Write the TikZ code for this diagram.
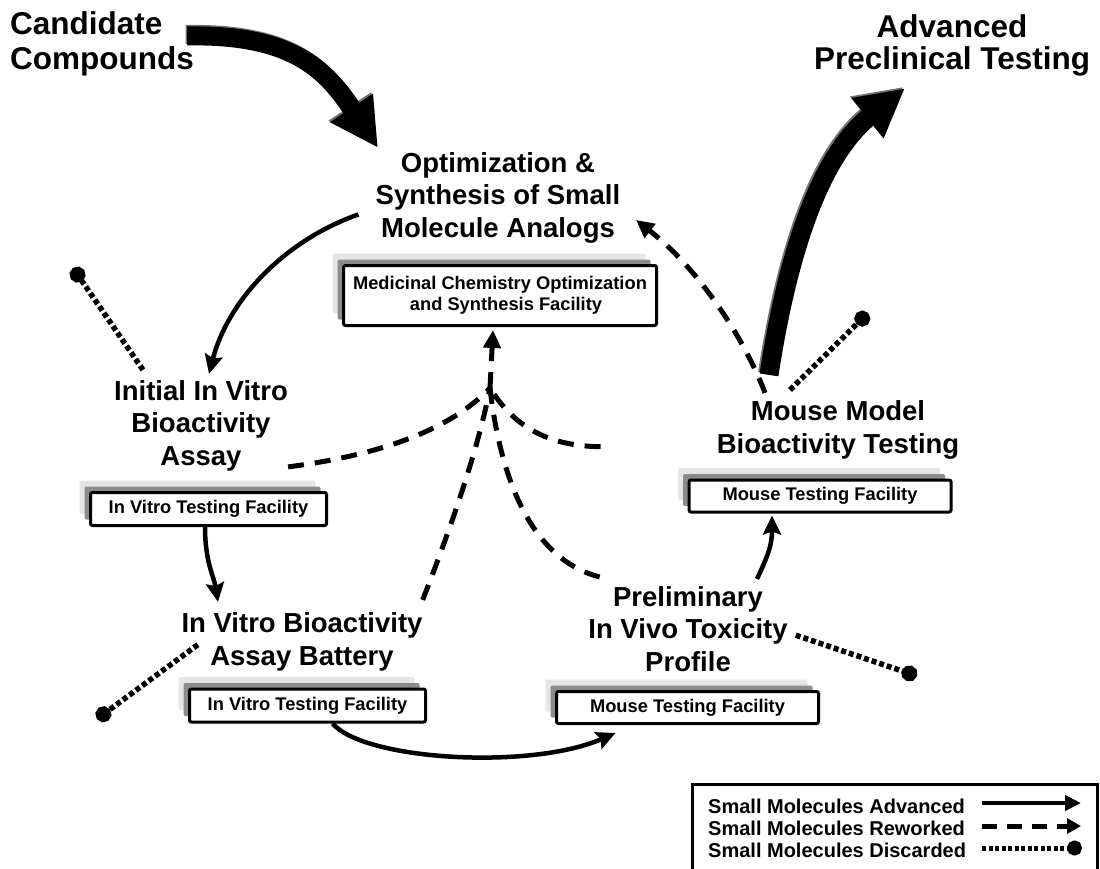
\documentclass[tikz,border=0pt]{standalone}
\usepackage{fontspec}
\setmainfont{Liberation Sans}
\usetikzlibrary{arrows.meta,shadows}
\tikzset{
  big/.style={font=\bfseries\fontsize{31.5}{35}\selectfont, align=left, inner sep=0pt},
  bigc/.style={font=\bfseries\fontsize{31.5}{32}\selectfont, align=center, inner sep=0pt},
  lbl/.style={font=\bfseries\fontsize{27.5}{32.5}\selectfont, align=center, inner sep=0pt},
  fac/.style={draw=black, line width=3pt, fill=white, rounded corners=2pt,
    font=\bfseries\fontsize{18.3}{21}\selectfont, align=center, inner sep=0pt,
    general shadow={fill=black!10, shadow xshift=-11pt, shadow yshift=12pt},
    general shadow={fill=black!45, shadow xshift=-6pt, shadow yshift=6pt}},
  legtext/.style={font=\bfseries\fontsize{20}{22}\selectfont, inner sep=0pt},
  adv/.style={line width=4.5pt, -{Stealth[length=19pt,width=18pt,inset=3pt]}},
  rew/.style={line width=5pt, dash pattern=on 16pt off 11pt, -{Triangle[length=18pt,width=17pt]}},
  rewplain/.style={line width=5pt, dash pattern=on 16pt off 11pt},
  disc/.style={line width=5.5pt, dash pattern=on 5pt off 3pt, -{Circle[length=16pt]}},
  bigarrow/.style={line width=19pt, -{Triangle[length=48pt,width=48pt]}},
}
\begin{document}
\begin{tikzpicture}[x=1pt,y=-1pt]
\useasboundingbox (0,0) rectangle (1100,869);

% big labels (anchor = baseline of last line)
\node[big, anchor=base west] (cand) at (10,70) {Candidate\\Compounds};
\node[bigc, anchor=base] (advp) at (952,70) {Advanced\\Preclinical Testing};

% stage labels
\node[lbl, anchor=base] (opt) at (498,237) {Optimization \&\\Synthesis of Small\\Molecule Analogs};
\node[lbl, anchor=base] (init) at (201,465) {Initial In Vitro\\Bioactivity\\Assay};
\node[lbl, anchor=base] (mm) at (838,453) {Mouse Model\\Bioactivity Testing};
\node[lbl, anchor=base] (ivbat) at (302,665) {In Vitro Bioactivity\\Assay Battery};
\node[lbl, anchor=base] (prelim) at (688,671) {Preliminary\\In Vivo Toxicity\\Profile};

% facility boxes
\node[fac, minimum width=313pt, minimum height=60pt] (med) at (500,295.5)
  {Medicinal Chemistry Optimization\\\hspace*{12pt}and Synthesis Facility};
\node[fac, minimum width=236pt, minimum height=33pt] (ivb1) at (208.5,509) {In Vitro Testing Facility};
\node[fac, minimum width=236pt, minimum height=33pt] (ivb2) at (307.5,705.5) {In Vitro Testing Facility};
\node[fac, minimum width=262pt, minimum height=32pt] (mouse1) at (820,496) {Mouse Testing Facility};
\node[fac, minimum width=262pt, minimum height=32pt] (mouse2) at (687.5,707.5) {Mouse Testing Facility};

% big arrows
\draw[bigarrow, black!55, transform canvas={shift={(-1.5pt,1.5pt)}}]
  ([xshift=-7pt,yshift=-24pt]cand.north east) .. controls (290,34) and (325,68) .. ([xshift=-120pt,yshift=4pt]opt.north);
\draw[bigarrow]
  ([xshift=-7pt,yshift=-24pt]cand.north east) .. controls (290,34) and (325,68) .. ([xshift=-120pt,yshift=4pt]opt.north);
\draw[bigarrow, black!55, transform canvas={shift={(-1.5pt,1.5pt)}}]
  ([xshift=-69pt,yshift=25.5pt]mm.north) .. controls (785,270) and (815,160) .. ([xshift=-47pt,yshift=-11.4pt]advp.south);
\draw[bigarrow]
  ([xshift=-69pt,yshift=25.5pt]mm.north) .. controls (785,270) and (815,160) .. ([xshift=-47pt,yshift=-11.4pt]advp.south);

% advanced (solid) connectors
\draw[adv] ([xshift=-17pt,yshift=-17pt]opt.west) .. controls (285,240) and (228,300) .. ([xshift=8pt,yshift=6pt]init.north);
\draw[adv] ([xshift=-3.5pt]ivb1.south) .. controls +(0,35) and +(-4,-25) .. ([xshift=-84pt,yshift=10.5pt]ivbat.north);
\draw[adv] ([xshift=25pt]ivb2.south) .. controls +(32,37) and +(-85,37) .. ([xshift=-72pt,yshift=-8pt]mouse2.south);
\draw[adv] ([xshift=69pt,yshift=7pt]prelim.north) .. controls +(12,-25) and +(0,28) .. ([xshift=-48pt,yshift=-2pt]mouse1.south);

% reworked (dashed) connectors
\coordinate (J) at (490,388);
\draw[rew] ([xshift=-73pt,yshift=7.5pt]mm.north) .. controls (745,340) and (700,270) .. ([xshift=15.5pt,yshift=-22.5pt]opt.east);
\draw[rewplain] ([yshift=4pt]init.south east) .. controls (380,455) and (450,430) .. (J);
\draw[rewplain] ([xshift=-116pt,yshift=-17pt]mm.west) .. controls (540,446) and (510,420) .. (J);
\draw[rewplain] ([yshift=12.5pt]ivbat.north east) .. controls (450,530) and (478,450) .. (J);
\draw[rewplain] (J) .. controls (500,475) and (530,565) .. ([xshift=20pt,yshift=7pt]prelim.north west);
\draw[rew] (J) -- ([xshift=-7pt,yshift=-3pt]med.south);

% discarded (dotted) connectors
\coordinate (d1) at (73,268);
\coordinate (d2) at (97,719);
\coordinate (d3) at (917,676);
\coordinate (d4) at (868,313);
\draw[disc] ([xshift=29pt,yshift=10pt]init.north west) -- (d1);
\draw[disc] ([xshift=16.5pt,yshift=-3pt]ivbat.west) -- (d2);
\draw[disc] ([xshift=8pt,yshift=-6.5pt]prelim.east) -- (d3);
\draw[disc] ([xshift=-48pt,yshift=10.5pt]mm.north) -- (d4);

% legend
\node[draw, line width=2.5pt, minimum width=405pt, minimum height=100pt, anchor=north west, inner sep=0pt] (legend) at (691,783) {};
\node[legtext, anchor=base west] (l1) at (708,813) {Small Molecules Advanced};
\node[legtext, anchor=base west] (l2) at (708,835) {Small Molecules Reworked};
\node[legtext, anchor=base west] (l3) at (708,857) {Small Molecules Discarded};
\coordinate (l1a) at (982,803); \coordinate (l1b) at (1081,803);
\coordinate (l2a) at (982,826); \coordinate (l2b) at (1081,826);
\coordinate (l3a) at (982,848); \coordinate (l3b) at (1082,848);
\draw[line width=4.5pt, -{Triangle[length=16pt,width=15pt]}] (l1a) -- (l1b);
\draw[line width=5pt, dash pattern=on 15pt off 10pt, -{Triangle[length=14pt,width=15pt]}] (l2a) -- (l2b);
\draw[line width=5pt, dash pattern=on 4pt off 2.5pt, -{Circle[length=15pt]}] (l3a) -- (l3b);
\end{tikzpicture}
\end{document}
